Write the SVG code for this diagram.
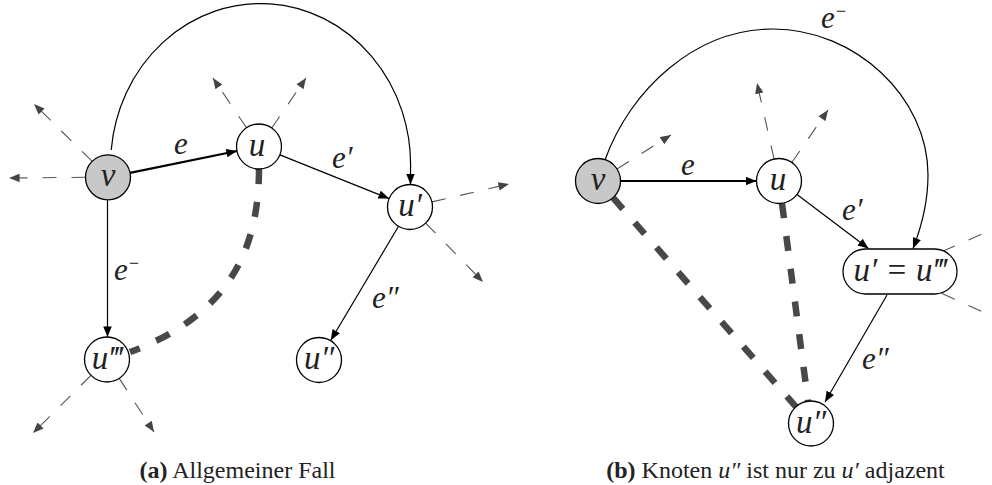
<svg xmlns="http://www.w3.org/2000/svg" width="992" height="485" viewBox="0 0 992 485">
<style>
  .edge { fill: none; stroke: #000; stroke-width: 1.2; }
  .thick { stroke-width: 2.2; }
  .stub { fill: none; stroke: #555; stroke-width: 1.1; stroke-dasharray: 14 15; }
  .path { fill: none; stroke: #484848; stroke-width: 6.5; stroke-dasharray: 15 18; }
  .node { fill: #fff; stroke: #000; stroke-width: 1.3; }
  .start { fill: #c8c8c8; }
  .math { font-family: "Liberation Serif", "DejaVu Serif", serif; font-style: italic; font-size: 31px; fill: #222; }
  .nl { font-size: 33px; text-anchor: middle; }
  .cap { font-family: "Liberation Serif", "Times New Roman", serif; font-size: 24px; fill: #222; text-anchor: middle; }
</style>
<defs>
  <marker id="arr" markerUnits="userSpaceOnUse" viewBox="0 0 10 8" refX="10" refY="4" markerWidth="11" markerHeight="8.5" orient="auto">
    <path d="M0,0 L10,4 L0,8 z" fill="#000"/>
  </marker>
  <marker id="garr" markerUnits="userSpaceOnUse" viewBox="0 0 10 8" refX="10" refY="4" markerWidth="11" markerHeight="8.5" orient="auto">
    <path d="M0,0 L10,4 L0,8 z" fill="#444"/>
  </marker>
</defs>

<g id="connectors">
  <!-- panel a: stubs -->
  <line class="stub" x1="92" y1="161.2" x2="34" y2="104" marker-end="url(#garr)"/>
  <line class="stub" x1="85.5" y1="177.3" x2="9" y2="178" marker-end="url(#garr)"/>
  <line class="stub" x1="246.5" y1="127.8" x2="213" y2="78" marker-end="url(#garr)"/>
  <line class="stub" x1="271.7" y1="128" x2="306" y2="78" marker-end="url(#garr)"/>
  <line class="stub" x1="431.9" y1="201.9" x2="509" y2="184" marker-end="url(#garr)"/>
  <line class="stub" x1="425.7" y1="223.1" x2="483" y2="282" marker-end="url(#garr)"/>
  <line class="stub" x1="91" y1="375.4" x2="33" y2="433" marker-end="url(#garr)"/>
  <line class="stub" x1="119.2" y1="378.4" x2="154" y2="432" marker-end="url(#garr)"/>
  <!-- panel a: edges -->
  <line class="edge thick" x1="130" y1="172.8" x2="237" y2="151" marker-end="url(#arr)"/>
  <line class="edge" x1="279.9" y1="154.9" x2="389.1" y2="198.6" marker-end="url(#arr)"/>
  <line class="edge" x1="107.5" y1="200" x2="107.5" y2="337" marker-end="url(#arr)"/>
  <line class="edge" x1="398.5" y1="226.3" x2="330.8" y2="340.3" marker-end="url(#arr)"/>
  <path class="edge" d="M111.2,150 A150,161 0 0 1 410.5,170 L410.5,184.5" marker-end="url(#arr)"/>
  <path class="path" d="M259,169 C259,265 215,320 130,352"/>

  <!-- panel b: stubs -->
  <line class="stub" x1="617" y1="169" x2="671" y2="135" marker-end="url(#garr)"/>
  <line class="stub" x1="774.1" y1="159" x2="757" y2="83" marker-end="url(#garr)"/>
  <line class="stub" x1="791.8" y1="162.5" x2="828" y2="110" marker-end="url(#garr)"/>
  <line class="stub" x1="942" y1="251.5" x2="1005" y2="224"/>
  <line class="stub" x1="942" y1="293.5" x2="1005" y2="322"/>
  <!-- panel b: edges -->
  <line class="edge thick" x1="620.5" y1="181" x2="756.5" y2="181" marker-end="url(#arr)"/>
  <line class="edge" x1="797" y1="194.5" x2="868.5" y2="248.5" marker-end="url(#arr)"/>
  <line class="edge" x1="887" y1="295" x2="825" y2="402" marker-end="url(#arr)"/>
  <path class="edge" d="M605,160 C630,90 695,29 773,29 C855,29 928,97 928,175 C928,205 921,228 913,248.5" marker-end="url(#arr)"/>
  <path class="path" d="M613,197.7 L796,406.8"/>
  <path class="path" d="M782,203.3 L808,401.2"/>
</g>

<g id="edge-labels" class="math">
  <text x="174" y="154">e</text>
  <text x="332" y="168">e′</text>
  <text x="114" y="280">e<tspan font-size="18" dy="-11">−</tspan></text>
  <text x="372" y="308">e″</text>
  <text x="681" y="175">e</text>
  <text x="842" y="220">e′</text>
  <text x="821" y="28">e<tspan font-size="18" dy="-11">−</tspan></text>
  <text x="862" y="369">e″</text>
</g>

<g id="node-a-v">
  <circle class="node start" cx="108" cy="177.3" r="22.5"/>
  <text class="math nl" x="108" y="186">v</text>
</g>
<g id="node-a-u">
  <circle class="node" cx="259" cy="146.5" r="22.5"/>
  <text class="math nl" x="257" y="155.5">u</text>
</g>
<g id="node-a-u1">
  <circle class="node" cx="410" cy="207" r="22.5"/>
  <text class="math nl" x="410" y="216">u′</text>
</g>
<g id="node-a-u3">
  <circle class="node" cx="107" cy="359.5" r="22.5"/>
  <text class="math nl" x="107" y="368.5">u‴</text>
</g>
<g id="node-a-u2">
  <circle class="node" cx="319" cy="360" r="22.5"/>
  <text class="math nl" x="319" y="369">u″</text>
</g>

<g id="node-b-v">
  <circle class="node start" cx="598" cy="181" r="22.5"/>
  <text class="math nl" x="598" y="189.5">v</text>
</g>
<g id="node-b-u">
  <circle class="node" cx="779" cy="181" r="22.5"/>
  <text class="math nl" x="778" y="190">u</text>
</g>
<g id="node-b-u13">
  <rect class="node" x="843" y="249" width="114" height="45" rx="22.5" ry="22.5"/>
  <text class="math nl" x="900" y="280.5">u′ = u‴</text>
</g>
<g id="node-b-u2">
  <circle class="node" cx="811" cy="423.5" r="22.5"/>
  <text class="math nl" x="811" y="432.5">u″</text>
</g>

<g id="captions">
  <text class="cap" x="237.5" y="478"><tspan font-weight="bold">(a)</tspan> Allgemeiner Fall</text>
  <text class="cap" x="775.5" y="478"><tspan font-weight="bold">(b)</tspan> Knoten <tspan font-style="italic">u″</tspan> ist nur zu <tspan font-style="italic">u′</tspan> adjazent</text>
</g>
</svg>
